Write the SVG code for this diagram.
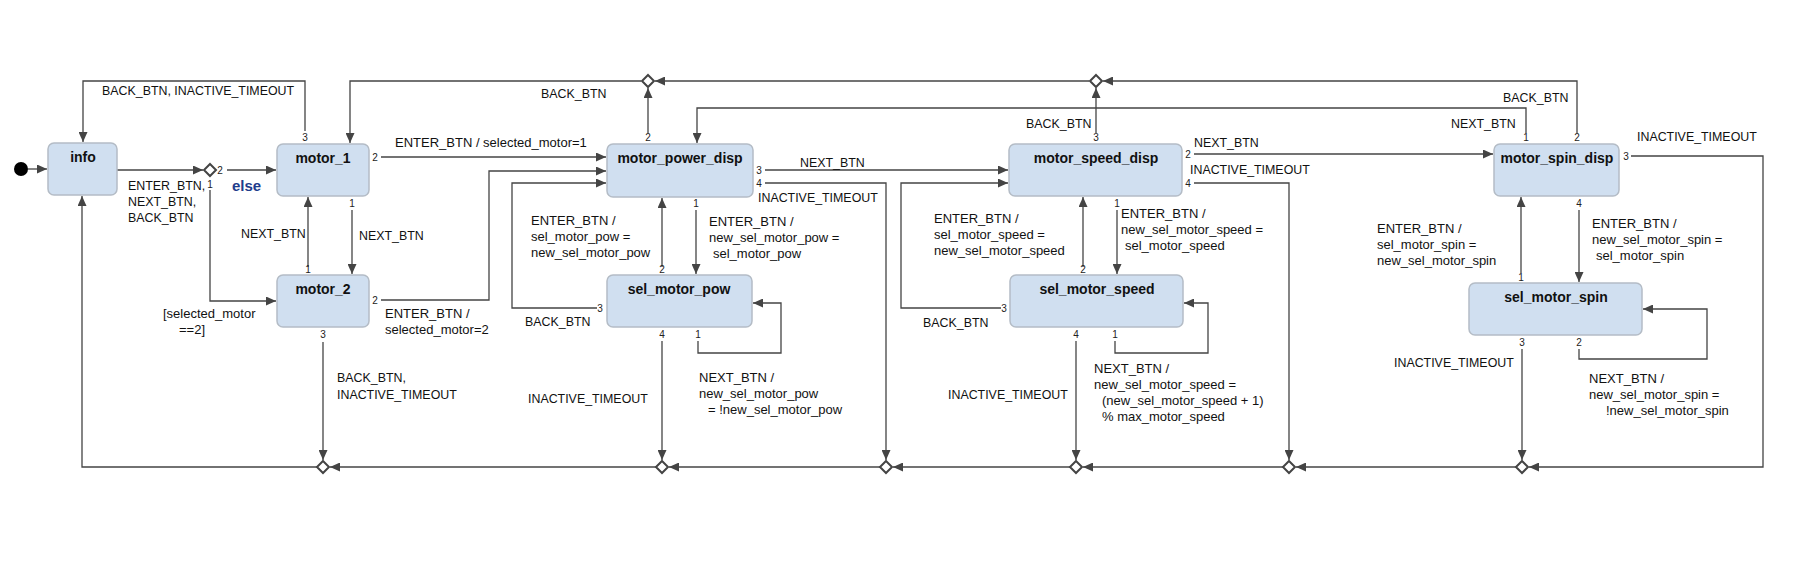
<svg xmlns="http://www.w3.org/2000/svg" width="1799" height="565" viewBox="0 0 1799 565">
<style>
.bg{fill:#ffffff}
.st{fill:#d0dff0;stroke:#b4bcc6;stroke-width:1.5}
.ttl{font-family:"Liberation Sans",Arial,sans-serif;font-size:14px;font-weight:bold;fill:#111;text-anchor:middle}
.lbl{font-family:"Liberation Sans",Arial,sans-serif;font-size:13px;fill:#111}
.caps{font-size:12.4px}
.port{font-family:"Liberation Sans",Arial,sans-serif;font-size:10px;fill:#222;text-anchor:middle}
.els{font-family:"Liberation Sans",Arial,sans-serif;font-size:15px;font-weight:bold;fill:#1f3d8c}
.cn{fill:none;stroke:#444;stroke-width:1.3;marker-end:url(#ah)}
.dm{fill:#fff;stroke:#444;stroke-width:2}
</style>
<defs>
<marker id="ah" markerUnits="userSpaceOnUse" markerWidth="11" markerHeight="9" refX="10" refY="4.5" orient="auto">
<path d="M0,0 L10,4.5 L0,9 z" fill="#444"/>
</marker>
</defs>
<rect class="bg" x="0" y="0" width="1799" height="565"/>

<g id="connectors">
<path class="cn" d="M28,169 L47,169"/>
<path class="cn" d="M117,170 L203,170"/>
<path class="cn" d="M227,170 L276,170"/>
<path class="cn" d="M210,190 L210,301 L276,301"/>
<path class="cn" d="M305,131 L305,81 L83,81 L83,142"/>
<path class="cn" d="M381,157 L606,157"/>
<path class="cn" d="M352,210 L352,274"/>
<path class="cn" d="M308,267 L308,197"/>
<path class="cn" d="M381,300 L489,300 L489,171 L606,171"/>
<path class="cn" d="M323,342 L323,460"/>
<path class="cn" d="M648,133 L648,88"/>
<path class="cn" d="M641,81 L350,81 L350,143"/>
<path class="cn" d="M1089,81 L655,81"/>
<path class="cn" d="M765,170 L1008,170"/>
<path class="cn" d="M765,183 L886,183 L886,460"/>
<path class="cn" d="M696,210 L696,274"/>
<path class="cn" d="M662,267 L662,198"/>
<path class="cn" d="M597,308 L512,308 L512,183 L606,183"/>
<path class="cn" d="M698,341 L698,353 L781,353 L781,303 L753,303"/>
<path class="cn" d="M662,341 L662,460"/>
<path class="cn" d="M1096,133 L1096,88"/>
<path class="cn" d="M1194,154 L1493,154"/>
<path class="cn" d="M1194,183 L1289,183 L1289,460"/>
<path class="cn" d="M1117,210 L1117,274"/>
<path class="cn" d="M1083,267 L1083,197"/>
<path class="cn" d="M1001,308 L901,308 L901,183 L1008,183"/>
<path class="cn" d="M1115,341 L1115,353 L1208,353 L1208,303 L1184,303"/>
<path class="cn" d="M1076,341 L1076,460"/>
<path class="cn" d="M1526,133 L1526,108 L697,108 L697,143"/>
<path class="cn" d="M1577,133 L1577,81 L1103,81"/>
<path class="cn" d="M1631,156 L1763,156 L1763,467 L1529,467"/>
<path class="cn" d="M1579,210 L1579,282"/>
<path class="cn" d="M1521,273 L1521,197"/>
<path class="cn" d="M1579,349 L1579,359 L1707,359 L1707,309 L1643,309"/>
<path class="cn" d="M1522,349 L1522,460"/>
<path class="cn" d="M1516,467 L1296,467"/>
<path class="cn" d="M1283,467 L1083,467"/>
<path class="cn" d="M1070,467 L893,467"/>
<path class="cn" d="M880,467 L669,467"/>
<path class="cn" d="M656,467 L330,467"/>
<path class="cn" d="M317,467 L82,467 L82,196"/>

<text class="lbl caps" x="102" y="95">BACK_BTN, INACTIVE_TIMEOUT</text>
<text class="lbl caps" x="128" y="190">ENTER_BTN,</text>
<text class="lbl caps" x="128" y="206">NEXT_BTN,</text>
<text class="lbl caps" x="128" y="222">BACK_BTN</text>
<text class="els" x="232" y="191">else</text>
<text class="lbl" x="163" y="318">[selected_motor</text>
<text class="lbl" x="179" y="334">==2]</text>
<text class="lbl caps" x="241" y="238">NEXT_BTN</text>
<text class="lbl caps" x="359" y="240">NEXT_BTN</text>
<text class="lbl" x="395" y="147">ENTER_BTN / selected_motor=1</text>
<text class="lbl" x="385" y="318">ENTER_BTN /</text>
<text class="lbl" x="385" y="334">selected_motor=2</text>
<text class="lbl caps" x="337" y="382">BACK_BTN,</text>
<text class="lbl caps" x="337" y="399">INACTIVE_TIMEOUT</text>
<text class="lbl caps" x="541" y="98">BACK_BTN</text>
<text class="lbl caps" x="800" y="167">NEXT_BTN</text>
<text class="lbl caps" x="758" y="202">INACTIVE_TIMEOUT</text>
<text class="lbl" x="531" y="225">ENTER_BTN /</text>
<text class="lbl" x="531" y="241">sel_motor_pow =</text>
<text class="lbl" x="531" y="257">new_sel_motor_pow</text>
<text class="lbl" x="709" y="226">ENTER_BTN /</text>
<text class="lbl" x="709" y="242">new_sel_motor_pow =</text>
<text class="lbl" x="713" y="258">sel_motor_pow</text>
<text class="lbl caps" x="525" y="326">BACK_BTN</text>
<text class="lbl caps" x="528" y="403">INACTIVE_TIMEOUT</text>
<text class="lbl" x="699" y="382">NEXT_BTN /</text>
<text class="lbl" x="699" y="398">new_sel_motor_pow</text>
<text class="lbl" x="708" y="414">= !new_sel_motor_pow</text>
<text class="lbl caps" x="1026" y="128">BACK_BTN</text>
<text class="lbl caps" x="1194" y="147">NEXT_BTN</text>
<text class="lbl caps" x="1190" y="174">INACTIVE_TIMEOUT</text>
<text class="lbl" x="934" y="223">ENTER_BTN /</text>
<text class="lbl" x="934" y="239">sel_motor_speed =</text>
<text class="lbl" x="934" y="255">new_sel_motor_speed</text>
<text class="lbl" x="1121" y="218">ENTER_BTN /</text>
<text class="lbl" x="1121" y="234">new_sel_motor_speed =</text>
<text class="lbl" x="1125" y="250">sel_motor_speed</text>
<text class="lbl caps" x="923" y="327">BACK_BTN</text>
<text class="lbl caps" x="948" y="399">INACTIVE_TIMEOUT</text>
<text class="lbl" x="1094" y="373">NEXT_BTN /</text>
<text class="lbl" x="1094" y="389">new_sel_motor_speed =</text>
<text class="lbl" x="1102" y="405">(new_sel_motor_speed + 1)</text>
<text class="lbl" x="1102" y="421">% max_motor_speed</text>
<text class="lbl caps" x="1451" y="128">NEXT_BTN</text>
<text class="lbl caps" x="1503" y="102">BACK_BTN</text>
<text class="lbl caps" x="1637" y="141">INACTIVE_TIMEOUT</text>
<text class="lbl" x="1377" y="233">ENTER_BTN /</text>
<text class="lbl" x="1377" y="249">sel_motor_spin =</text>
<text class="lbl" x="1377" y="265">new_sel_motor_spin</text>
<text class="lbl" x="1592" y="228">ENTER_BTN /</text>
<text class="lbl" x="1592" y="244">new_sel_motor_spin =</text>
<text class="lbl" x="1596" y="260">sel_motor_spin</text>
<text class="lbl caps" x="1394" y="367">INACTIVE_TIMEOUT</text>
<text class="lbl" x="1589" y="383">NEXT_BTN /</text>
<text class="lbl" x="1589" y="399">new_sel_motor_spin =</text>
<text class="lbl" x="1606" y="415">!new_sel_motor_spin</text>

<text class="port" x="220" y="174">2</text>
<text class="port" x="210" y="188">1</text>
<text class="port" x="305" y="141">3</text>
<text class="port" x="375" y="161">2</text>
<text class="port" x="352" y="207">1</text>
<text class="port" x="308" y="273">1</text>
<text class="port" x="375" y="304">2</text>
<text class="port" x="323" y="338">3</text>
<text class="port" x="648" y="141">2</text>
<text class="port" x="759" y="174">3</text>
<text class="port" x="759" y="187">4</text>
<text class="port" x="696" y="207">1</text>
<text class="port" x="662" y="273">2</text>
<text class="port" x="600" y="312">3</text>
<text class="port" x="662" y="338">4</text>
<text class="port" x="698" y="338">1</text>
<text class="port" x="1096" y="141">3</text>
<text class="port" x="1188" y="158">2</text>
<text class="port" x="1188" y="187">4</text>
<text class="port" x="1117" y="207">1</text>
<text class="port" x="1083" y="273">2</text>
<text class="port" x="1004" y="312">3</text>
<text class="port" x="1076" y="338">4</text>
<text class="port" x="1115" y="338">1</text>
<text class="port" x="1526" y="141">1</text>
<text class="port" x="1577" y="141">2</text>
<text class="port" x="1626" y="160">3</text>
<text class="port" x="1579" y="207">4</text>
<text class="port" x="1521" y="281">1</text>
<text class="port" x="1522" y="346">3</text>
<text class="port" x="1579" y="346">2</text>
</g>

<g id="initial"><circle cx="21" cy="169" r="7" fill="#000"/></g>
<g id="info"><rect class="st" x="48" y="143" width="69" height="52" rx="6"/><text class="ttl" x="83" y="162">info</text></g>
<g id="motor_1"><rect class="st" x="277" y="144" width="92" height="52" rx="6"/><text class="ttl" x="323" y="163">motor_1</text></g>
<g id="motor_2"><rect class="st" x="277" y="275" width="92" height="52" rx="6"/><text class="ttl" x="323" y="294">motor_2</text></g>
<g id="motor_power_disp"><rect class="st" x="607" y="144" width="146" height="53" rx="6"/><text class="ttl" x="680" y="163">motor_power_disp</text></g>
<g id="sel_motor_pow"><rect class="st" x="607" y="275" width="145" height="52" rx="6"/><text class="ttl" x="679" y="294">sel_motor_pow</text></g>
<g id="motor_speed_disp"><rect class="st" x="1009" y="144" width="173" height="52" rx="6"/><text class="ttl" x="1096" y="163">motor_speed_disp</text></g>
<g id="sel_motor_speed"><rect class="st" x="1010" y="275" width="173" height="52" rx="6"/><text class="ttl" x="1097" y="294">sel_motor_speed</text></g>
<g id="motor_spin_disp"><rect class="st" x="1494" y="144" width="125" height="52" rx="6"/><text class="ttl" x="1557" y="163">motor_spin_disp</text></g>
<g id="sel_motor_spin"><rect class="st" x="1469" y="283" width="173" height="52" rx="6"/><text class="ttl" x="1556" y="302">sel_motor_spin</text></g>

<g id="choice_entry"><polygon class="dm" points="210,164 216,170 210,176 204,170"/></g>
<g id="choice_top1"><polygon class="dm" points="648,75 654,81 648,87 642,81"/></g>
<g id="choice_top2"><polygon class="dm" points="1096,75 1102,81 1096,87 1090,81"/></g>
<g id="choice_b1"><polygon class="dm" points="323,461 329,467 323,473 317,467"/></g>
<g id="choice_b2"><polygon class="dm" points="662,461 668,467 662,473 656,467"/></g>
<g id="choice_b3"><polygon class="dm" points="886,461 892,467 886,473 880,467"/></g>
<g id="choice_b4"><polygon class="dm" points="1076,461 1082,467 1076,473 1070,467"/></g>
<g id="choice_b5"><polygon class="dm" points="1289,461 1295,467 1289,473 1283,467"/></g>
<g id="choice_b6"><polygon class="dm" points="1522,461 1528,467 1522,473 1516,467"/></g>
</svg>
